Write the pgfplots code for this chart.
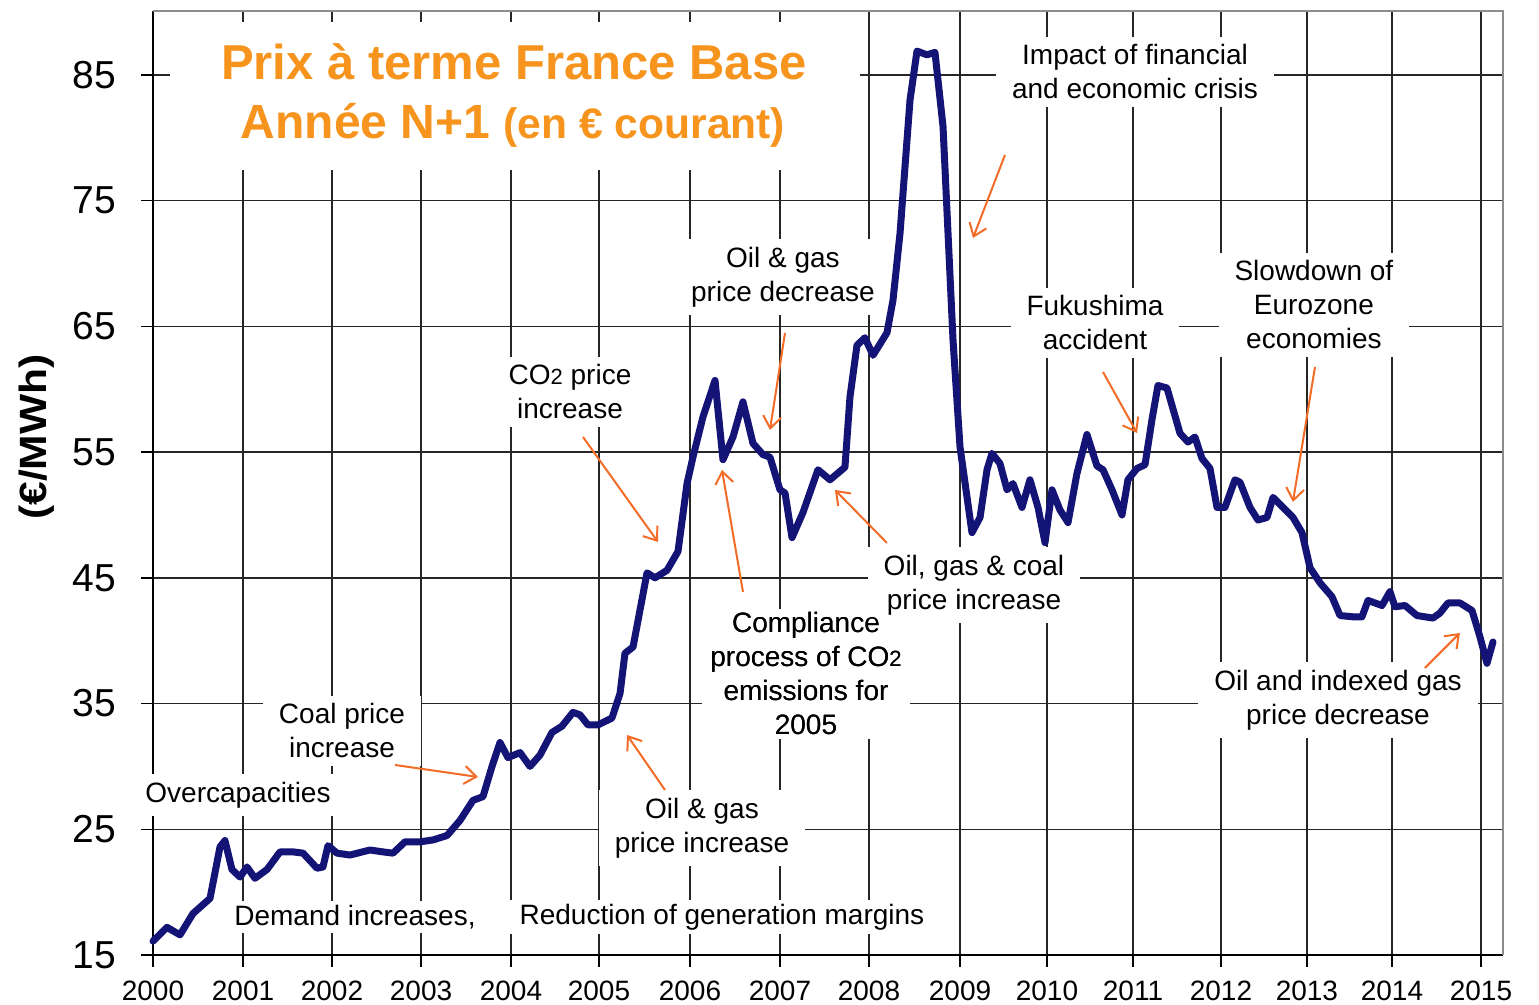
\documentclass[border=0pt]{standalone}
\usepackage{fontspec}
\setmainfont{Liberation Sans}
\usepackage{graphicx}
\usepackage{pgfplots}
\pgfplotsset{compat=1.18}
\usetikzlibrary{arrows.meta}
\definecolor{navyline}{RGB}{20,20,118}
\definecolor{titleorange}{RGB}{247,148,30}
\definecolor{arroworange}{RGB}{242,108,40}
% position in the reference picture (pixels) -> axis coordinates
\newcommand{\pp}[2]{(axis cs:{2000+(#1-153)/88.52},{15+(955-#2)/12.5714})}

% x: position along the time axis (years, as spaced on the original axis)
\pgfplotstableread{
x y
2000.000 16.1
2000.158 17.2
2000.305 16.6
2000.452 18.3
2000.644 19.5
2000.757 23.6
2000.813 24.1
2000.892 21.8
2000.983 21.2
2001.062 22.0
2001.152 21.1
2001.288 21.8
2001.435 23.2
2001.582 23.2
2001.695 23.1
2001.853 21.9
2001.920 22.0
2001.977 23.7
2002.079 23.1
2002.225 22.95
2002.451 23.35
2002.598 23.2
2002.711 23.1
2002.847 24.0
2003.016 24.0
2003.163 24.15
2003.321 24.5
2003.468 25.7
2003.615 27.3
2003.728 27.6
2003.830 30.0
2003.920 31.9
2004.010 30.7
2004.146 31.1
2004.259 30.0
2004.372 30.9
2004.507 32.7
2004.620 33.2
2004.745 34.3
2004.824 34.1
2004.914 33.3
2005.027 33.3
2005.185 33.85
2005.276 35.8
2005.332 39.0
2005.423 39.5
2005.581 45.4
2005.671 45.0
2005.807 45.6
2005.931 47.1
2006.033 52.5
2006.100 54.6
2006.213 57.8
2006.349 60.7
2006.439 54.4
2006.552 56.2
2006.665 59.0
2006.778 55.7
2006.891 54.8
2006.970 54.6
2007.083 52.0
2007.140 51.75
2007.219 48.2
2007.343 50.2
2007.512 53.6
2007.648 52.8
2007.817 53.8
2007.874 59.4
2007.953 63.5
2008.043 64.1
2008.134 62.7
2008.292 64.5
2008.360 67.1
2008.439 72.4
2008.552 83.0
2008.631 86.9
2008.744 86.6
2008.834 86.8
2008.925 80.9
2009.038 63.9
2009.117 55.4
2009.252 48.6
2009.343 49.8
2009.422 53.6
2009.478 54.9
2009.568 54.1
2009.648 52.0
2009.715 52.5
2009.817 50.6
2009.907 52.8
2009.998 50.6
2010.077 47.8
2010.156 52.0
2010.246 50.4
2010.337 49.4
2010.438 53.3
2010.551 56.4
2010.664 53.9
2010.732 53.6
2010.834 52.0
2010.947 50.0
2011.014 52.8
2011.116 53.7
2011.207 54.0
2011.286 57.6
2011.353 60.3
2011.455 60.1
2011.602 56.5
2011.692 55.8
2011.771 56.2
2011.850 54.5
2011.941 53.7
2012.020 50.6
2012.110 50.6
2012.223 52.8
2012.280 52.6
2012.393 50.6
2012.483 49.6
2012.585 49.8
2012.653 51.4
2012.766 50.6
2012.879 49.8
2012.980 48.6
2013.071 45.8
2013.184 44.6
2013.319 43.5
2013.410 42.0
2013.556 41.9
2013.658 41.9
2013.726 43.2
2013.884 42.8
2013.974 43.9
2014.031 42.7
2014.144 42.8
2014.279 42.0
2014.460 41.8
2014.539 42.2
2014.629 43.0
2014.765 43.0
2014.901 42.4
2014.991 40.3
2015.070 38.2
2015.138 39.9
}\pricedata

\begin{document}
\begin{tikzpicture}
\path[use as bounding box] (0,0) rectangle (769.5pt,502.5pt);
\begin{axis}[
  at={(76.5pt,25pt)}, anchor=south west,
  scale only axis, width=675pt, height=472pt,
  xmin=2000, xmax=2015.251, ymin=15, ymax=90.09,
  clip=false,
  axis lines*=left,
  axis line style={black, line width=0.8pt},
  xtick={2000,2001.017,2002.022,2003.028,2004.044,2005.038,2006.066,2007.083,2008.088,2009.117,2010.099,2011.071,2012.065,2013.036,2013.997,2015.002},
  xticklabels={2000,2001,2002,2003,2004,2005,2006,2007,2008,2009,2010,2011,2012,2013,2014,2015},
  ytick={15,25,35,45,55,65,75,85},
  yticklabels={15,25,35,45,55,65,75,85},
  grid=major,
  major grid style={black!85, line width=0.75pt},
  tick align=outside,
  major tick length=6pt,
  tick style={black, line width=0.75pt},
  /pgf/number format/assume math mode=true,
  xticklabel style={font=\fontsize{14}{14}\selectfont, yshift=-3.5pt},
  yticklabel style={font=\fontsize{19.5}{19.5}\selectfont, xshift=-9pt},
]
  \draw[black!45, line width=0.6pt] \pp{153}{11} -- \pp{1503}{11} -- \pp{1503}{955};
  % title
  \node[fill=white, minimum width=345pt, minimum height=74pt, inner sep=0pt] at \pp{515}{96} {};
  \node[anchor=base, text=titleorange, font=\bfseries\fontsize{24.5}{28}\selectfont] at \pp{514}{80} {Prix à terme France Base};
  \node[anchor=base, text=titleorange, font=\bfseries\fontsize{24}{28}\selectfont] at \pp{513}{139} {Année N+1 {\fontsize{21.3}{24}\selectfont (en € courant)}};
  % annotations
  \tikzset{lbl/.style={fill=white, align=center, font=\fontsize{14}{17}\selectfont, inner xsep=8pt, inner ysep=4pt},
           arr/.style={arroworange, line width=1pt, -{Straight Barb[length=6pt,width=9pt]}}}
  \node[lbl] at \pp{238}{795} {Overcapacities};
  \node[lbl] at \pp{342}{731} {Coal price\\increase};
  \node[lbl, inner ysep=2pt] at \pp{355}{917} {Demand increases,};
  \node[lbl, inner ysep=2pt] at \pp{722}{917} {Reduction of generation margins};
  \node[lbl] at \pp{702}{828} {Oil \& gas\\price increase};
  \node[lbl, inner xsep=4pt, inner ysep=2pt] at \pp{806}{674} {Compliance\\process of CO{\fontsize{11}{11}\selectfont 2}\\emissions for\\2005};
  \node[lbl] at \pp{974}{585} {Oil, gas \& coal\\price increase};
  \node[lbl, fill=none, inner xsep=4pt, inner ysep=2pt] at \pp{806}{674} {Compliance\\process of CO{\fontsize{11}{11}\selectfont 2}\\emissions for\\2005};
  \node[lbl] at \pp{570}{392} {CO{\fontsize{11}{11}\selectfont 2} price\\increase};
  \node[lbl] at \pp{783}{277} {Oil \& gas\\price decrease};
  \node[lbl] at \pp{1135}{72} {Impact of financial\\and economic crisis};
  \node[lbl] at \pp{1095}{323} {Fukushima\\accident};
  \node[lbl] at \pp{1314}{305} {Slowdown of\\Eurozone\\economies};
  \node[lbl] at \pp{1338}{700} {Oil and indexed gas\\price decrease};
  % arrows
  \draw[arr] \pp{395}{765} -- \pp{478}{777};
  \draw[arr] \pp{583}{437} -- \pp{658}{542};
  \draw[arr] \pp{665}{790} -- \pp{627}{735};
  \draw[arr] \pp{743}{592} -- \pp{722}{470};
  \draw[arr] \pp{785}{333} -- \pp{770}{430};
  \draw[arr] \pp{887}{543} -- \pp{835}{490};
  \draw[arr] \pp{1005}{155} -- \pp{973}{238};
  \draw[arr] \pp{1103}{372} -- \pp{1137}{433};
  \draw[arr] \pp{1315}{367} -- \pp{1293}{502};
  \draw[arr] \pp{1425}{668} -- \pp{1460}{633};
  % price series
  \addplot[navyline, line width=3.5pt, line join=round, line cap=round] table[x=x,y=y] {\pricedata};
\end{axis}
\node[rotate=90, font=\bfseries\fontsize{19}{19}\selectfont] at (18.5pt,284pt) {\scalebox{1.12}[1]{(€/MWh)}};
\end{tikzpicture}
\end{document}
